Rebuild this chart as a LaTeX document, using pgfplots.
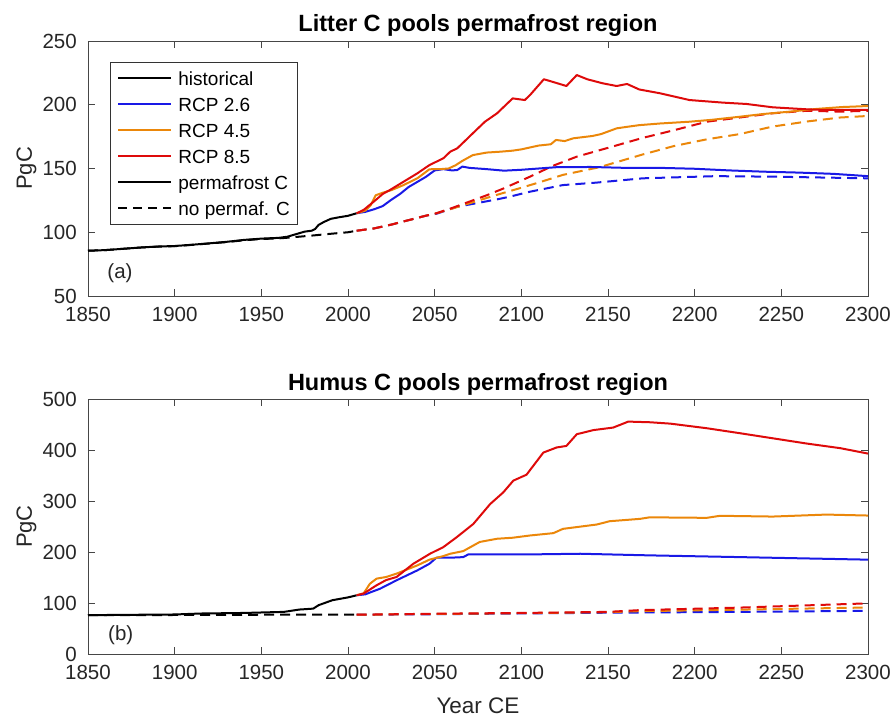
\documentclass[border=0pt]{standalone}
\usepackage{pgfplots}
\pgfplotsset{compat=1.18}
\usepackage{fontspec}
\setmainfont{Liberation Sans}
\definecolor{cblue}{RGB}{25,25,230}
\definecolor{corange}{RGB}{235,135,10}
\definecolor{cred}{RGB}{222,10,10}
\definecolor{axgray}{RGB}{70,70,70}
\definecolor{txtgray}{RGB}{38,38,38}
\tikzset{dsh/.style={dash pattern=on 10pt off 6pt}}
\pgfplotsset{
  myaxis/.style={
    scale only axis, width=780pt, height=255pt,
    xmin=1850, xmax=2300, xtick={1850,1900,...,2300},
    /pgf/number format/assume math mode=true,
    /pgf/number format/1000 sep={},
    axis line style={axgray, line width=0.8pt},
    every tick/.style={axgray, line width=0.8pt},
    major tick length=7pt,
    tick align=inside,
    xtick pos=both, ytick pos=both,
    ticklabel style={font=\fontsize{20.5}{24}\selectfont, color=txtgray},
    xticklabel style={yshift=-11pt, inner sep=0pt},
    yticklabel style={xshift=-11pt, inner sep=0pt},
    clip=false,
    every axis plot/.append style={line width=2pt, line join=round},
  }
}
\begin{document}
\begin{tikzpicture}
\path[use as bounding box] (-88pt,-420pt) rectangle (806pt,296pt);
% ---------------- top panel ----------------
\begin{axis}[myaxis, name=top, at={(0pt,0pt)}, anchor=south west,
  ymin=50, ymax=250, ytick={50,100,...,250},
  legend style={at={(rel axis cs:0.0282,0.9176)}, anchor=north west,
    draw=black!80, line width=0.8pt, fill=white,
    font=\fontsize{19}{22}\selectfont,
    inner xsep=7pt, inner ysep=9pt,
    row sep=12pt,
    nodes={inner sep=0pt, text height=14pt, text depth=0pt},
    /tikz/column sep=6pt},
  legend cell align=left,
  legend image code/.code={\draw[#1] (0pt,0pt) -- (53pt,0pt);},
]
\addlegendimage{black, line width=2pt}
\addlegendentry{historical}
\addlegendimage{cblue, line width=2pt}
\addlegendentry{RCP 2.6}
\addlegendimage{corange, line width=2pt}
\addlegendentry{RCP 4.5}
\addlegendimage{cred, line width=2pt}
\addlegendentry{RCP 8.5}
\addlegendimage{black, line width=2pt}
\addlegendentry{permafrost C}
\addlegendimage{black, line width=2pt, dash pattern=on 9pt off 6pt}
\addlegendentry{no permaf. C}
% historical, no permafrost C
\addplot[black, dsh, forget plot] coordinates {
(1850,85.5) (1860,86) (1870,87) (1880,88) (1890,88.7) (1900,89.1) (1910,90.1) (1920,91.2)
(1930,92.3) (1940,93.7) (1950,94.7) (1960,95.2) (1965,95.7) (1970,96.3) (1980,97.5)
(1990,98.8) (2000,100) (2005,101.2)};
% historical, permafrost C
\addplot[black, forget plot] coordinates {
(1850,85.5) (1860,86) (1870,87) (1880,88) (1890,88.8) (1900,89.2) (1910,90.2) (1920,91.3)
(1930,92.5) (1940,94) (1950,95) (1960,95.6) (1965,96.5) (1970,98.5) (1975,100.5) (1979,101.2)
(1981,102.5) (1983,105.7) (1986,108) (1990,110.5) (1995,111.8) (2000,112.9) (2005,114.9)};
% RCP dashed
\addplot[cblue, dsh, forget plot] coordinates {
(2005,101.2) (2015,103) (2025,106) (2035,109.5) (2045,113) (2051,114.5) (2063,120) (2075,123)
(2086,125.8) (2092,127.5) (2105,131.8) (2124,137) (2143,138.9) (2170,142.3) (2212,144)
(2245,143.6) (2300,142.3)};
\addplot[corange, dsh, forget plot] coordinates {
(2005,101.2) (2015,103) (2025,106) (2035,109.5) (2045,113) (2051,114.9) (2060,118.5) (2070,122.7)
(2085,129) (2099,134.5) (2110,139) (2124,145) (2145,151) (2170,161) (2188,167.6) (2207,172.9)
(2226,177) (2245,182.9) (2265,186.9) (2284,190) (2300,191.2)};
\addplot[cred, dsh, forget plot] coordinates {
(2005,101.2) (2015,103) (2025,106) (2035,109.5) (2045,113) (2051,114.9) (2060,119) (2070,124)
(2080,129) (2090,134.5) (2105,143.6) (2118,152) (2132,159.3) (2151,166.6) (2170,174) (2188,180)
(2207,186.7) (2226,190) (2245,193.3) (2265,195.3) (2284,194.6) (2300,195.3)};
% RCP solid
\addplot[cblue, forget plot] coordinates {
(2005,114.9) (2010,116) (2015,118) (2020,120.5) (2025,125.5) (2030,130) (2035,135.5) (2040,139.5)
(2045,143.5) (2050,148.5) (2055,149.5) (2060,148.5) (2063,148.8) (2066,151.5) (2070,150.5)
(2080,149.5) (2090,148.3) (2100,149) (2110,150) (2120,151) (2140,151.2) (2160,150.5) (2180,150.5)
(2200,149.8) (2220,148.5) (2240,147.5) (2260,146.8) (2280,145.8) (2300,144)};
\addplot[corange, forget plot] coordinates {
(2005,114.9) (2010,117) (2013,121) (2016,129) (2020,131) (2025,133) (2032,137) (2040,142.3)
(2047,149.4) (2053,149.5) (2058,150) (2062,152.5) (2066,156) (2072,160.5) (2080,162.5) (2088,163.2)
(2095,164) (2100,165) (2105,166.5) (2110,168) (2117,169) (2120,172.4) (2125,171.5) (2130,173.7)
(2141,175.5) (2146,177) (2150,179) (2155,181.5) (2160,182.5) (2168,184) (2180,185.3) (2197,186.7)
(2210,188.2) (2226,190.6) (2240,192.8) (2255,194.6) (2270,196.7) (2285,198.2) (2300,199)};
\addplot[cred, forget plot] coordinates {
(2005,114.9) (2009,117.5) (2016,125.3) (2020,130) (2024,133) (2032,139.6) (2040,146.2) (2047,152.7)
(2055,158) (2059,163.2) (2063,165.8) (2067,171) (2072,177.6) (2079,186.7) (2086,193.3) (2095,205)
(2102,203.7) (2105,207.6) (2113,220) (2118,218) (2126,214.7) (2132,223.3) (2138,220) (2147,216.8)
(2155,214.7) (2161,216.3) (2168,212) (2180,209) (2197,203.7) (2216,201.7) (2230,200.6) (2245,198)
(2265,196.4) (2276,195.9) (2290,195.9) (2300,196)};
\node[font=\fontsize{20.5}{24}\selectfont, text=txtgray] at (rel axis cs:0.041,0.09) {(a)};
\end{axis}
% ---------------- bottom panel ----------------
\begin{axis}[myaxis, name=bot, at={(0pt,-358pt)}, anchor=south west,
  ymin=0, ymax=500, ytick={0,100,...,500}]
\addplot[black, dsh] coordinates {
(1850,76) (1900,76.5) (1950,77) (2005,77)};
\addplot[black] coordinates {
(1850,76.2) (1880,77) (1900,77.5) (1915,79.4) (1940,80.5) (1963,82.6) (1972,87.2) (1980,89)
(1983,95.7) (1991,105.5) (2000,111) (2005,115.2)};
\addplot[cblue, dsh] coordinates {
(2005,77) (2050,78) (2100,79.5) (2150,81) (2226,82.6) (2297,84.6)};
\addplot[corange, dsh] coordinates {
(2005,77) (2050,78.5) (2100,80) (2150,82) (2168,84) (2226,87) (2297,91)};
\addplot[cred, dsh] coordinates {
(2005,77) (2050,79) (2100,80.5) (2150,82.6) (2168,86) (2226,91) (2297,99)};
\addplot[cblue] coordinates {
(2005,115.2) (2010,117) (2013,121) (2018.5,128) (2028,144.5) (2040,164) (2047,177) (2051,188.8)
(2059,188.8) (2066.5,190) (2069.4,195.3) (2105,195.3) (2134,196.6) (2174,193.4) (2226,190) (2300,185)};
\addplot[corange] coordinates {
(2005,115.2) (2009,119) (2012.7,138) (2016.5,147.8) (2022,151) (2028,157.6) (2040,173.8) (2047,185)
(2055,192) (2059,196.6) (2066.5,201.8) (2076,219.7) (2086,226) (2095,228) (2105,232.4) (2118.5,237)
(2124,245.4) (2143.5,253.9) (2151,260.4) (2168.5,265) (2174,268) (2207,267) (2214.6,271) (2245,269.5)
(2276,273.4) (2300,271.5)};
\addplot[cred] coordinates {
(2005,115.2) (2009,118.5) (2016.5,134.8) (2022,145) (2028,151) (2037.7,177) (2047.3,196.6) (2055,209.6)
(2062.7,229) (2072.3,255) (2082,294) (2089.6,317) (2095.4,340) (2103,351.6) (2112.7,395) (2120.4,405)
(2126,408) (2132,431) (2141.5,439) (2153,444) (2161.7,455.7) (2174.3,454.4) (2186,451.7) (2207,442.7)
(2226,433) (2245,423) (2264.6,412.7) (2284,403.6) (2300,393)};
\node[font=\fontsize{20.5}{24}\selectfont, text=txtgray] at (rel axis cs:0.042,0.0745) {(b)};
\end{axis}
% titles and labels
\node[anchor=base, inner sep=0pt, font=\fontsize{23.5}{27}\selectfont\bfseries] at (390pt,264.3pt) {Litter C pools permafrost region};
\node[anchor=base, inner sep=0pt, font=\fontsize{23.5}{27}\selectfont\bfseries] at (390pt,-94.3pt) {Humus C pools permafrost region};
\node[anchor=base, inner sep=0pt, rotate=90, font=\fontsize{22}{26}\selectfont, text=txtgray] at (-56pt,127.5pt) {PgC};
\node[anchor=base, inner sep=0pt, rotate=90, font=\fontsize{22}{26}\selectfont, text=txtgray] at (-56pt,-230.5pt) {PgC};
\node[anchor=base, inner sep=0pt, font=\fontsize{22.5}{26}\selectfont, text=txtgray] at (390pt,-417pt) {Year CE};
\end{tikzpicture}
\end{document}
